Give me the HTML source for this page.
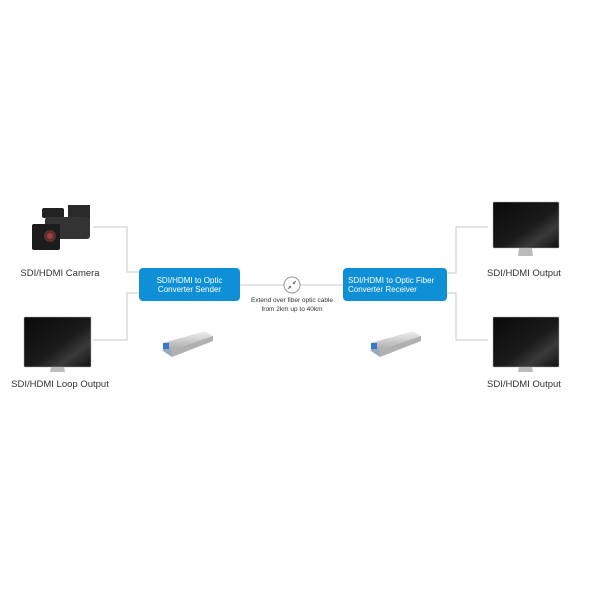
<!DOCTYPE html>
<html><head><meta charset="utf-8"><style>
html,body{margin:0;padding:0;background:#fff;}
body{width:600px;height:600px;position:relative;overflow:hidden;font-family:"Liberation Sans",sans-serif;}
.t{position:absolute;font-size:9.5px;color:#333;text-align:center;white-space:nowrap;}
</style></head><body>
<svg width="600" height="600" style="position:absolute;left:0;top:0">
<defs>
<linearGradient id="scr" x1="0" y1="0" x2="1" y2="1">
<stop offset="0" stop-color="#0a0a0a"/><stop offset="0.55" stop-color="#1a1a1a"/><stop offset="0.75" stop-color="#3a3a3a"/><stop offset="1" stop-color="#111"/>
</linearGradient>
<linearGradient id="sfp" x1="0" y1="0" x2="0" y2="1">
<stop offset="0" stop-color="#f2f2f2"/><stop offset="1" stop-color="#a8a8a8"/>
</linearGradient>
</defs>
<g fill="none" stroke="#c8c8c8" stroke-width="1">
<polyline points="93,227 127,227 127,272 139,272"/>
<polyline points="93,340 127,340 127,293 139,293"/>
<polyline points="447,273 456,273 456,227 488,227"/>
<polyline points="447,293 456,293 456,340 488,340"/>
<line x1="240" y1="285" x2="343" y2="285"/>
</g>
<circle cx="292" cy="285" r="8" fill="#fff" stroke="#999" stroke-width="1"/>
<path d="M288 289 l3 -3 M293 284 l3 -3 M289 286 l2 2 M293 282 l2 2" stroke="#777" stroke-width="1"/>
<rect x="139" y="268" width="101" height="33" rx="4" fill="#0e8fd6"/>
<rect x="343" y="268" width="104" height="33" rx="4" fill="#0e8fd6"/>
<!-- camera -->
<g>
<rect x="42" y="208" width="22" height="10" rx="2" fill="#222"/>
<rect x="68" y="205" width="22" height="14" fill="#2a2a2a"/>
<rect x="45" y="217" width="45" height="22" rx="3" fill="#333"/>
<rect x="32" y="224" width="28" height="26" rx="2" fill="#1c1c1c"/>
<circle cx="50" cy="236" r="6" fill="#5a3030"/>
<circle cx="50" cy="236" r="3" fill="#a04040"/>
</g>
<!-- monitors -->
<g id="m">
<rect x="24" y="317" width="67" height="50" rx="1" fill="url(#scr)" stroke="#aaa" stroke-width="0.5"/>
<path d="M51 367 h13 l1 5 h-15z" fill="#bbb"/>
</g>
<rect x="493" y="202" width="66" height="46" rx="1" fill="url(#scr)" stroke="#aaa" stroke-width="0.5"/>
<path d="M519 248 h13 l1 8 h-15z" fill="#bbb"/>
<rect x="493" y="317" width="66" height="50" rx="1" fill="url(#scr)" stroke="#aaa" stroke-width="0.5"/>
<path d="M519 367 h13 l1 5 h-15z" fill="#bbb"/>
<!-- sfp -->
<g>
<path d="M163 343 L205 331 L213 336 L172 350 Z" fill="url(#sfp)"/>
<path d="M163 343 L172 350 L172 357 L163 351 Z" fill="#9aa8c0"/>
<path d="M172 350 L213 336 L213 341 L172 357 Z" fill="#b0b0b0"/>
<rect x="163" y="343" width="6" height="6" fill="#3a78c8"/>
</g>
<g>
<path d="M371 343 L413 331 L421 336 L380 350 Z" fill="url(#sfp)"/>
<path d="M371 343 L380 350 L380 357 L371 351 Z" fill="#9aa8c0"/>
<path d="M380 350 L421 336 L421 341 L380 357 Z" fill="#b0b0b0"/>
<rect x="371" y="343" width="6" height="6" fill="#3a78c8"/>
</g>
</svg>
<div class="t" style="left:0;width:120px;top:268px">SDI/HDMI Camera</div>
<div class="t" style="left:0;width:120px;top:379px">SDI/HDMI Loop Output</div>
<div class="t" style="left:464px;width:120px;top:268px">SDI/HDMI Output</div>
<div class="t" style="left:464px;width:120px;top:379px">SDI/HDMI Output</div>
<div class="t" style="left:139px;width:101px;top:276px;color:#fff;font-size:8px;line-height:9px">SDI/HDMI to Optic<br>Converter Sender</div>
<div class="t" style="left:343px;width:104px;top:276px;color:#fff;font-size:8px;line-height:9px;text-align:left;padding-left:5px">SDI/HDMI to Optic Fiber<br>Converter Receiver</div>
<div class="t" style="left:232px;width:120px;top:296px;font-size:6.5px;line-height:9px">Extend over fiber optic cable<br>from 2km up to 40km</div>
</body></html>
